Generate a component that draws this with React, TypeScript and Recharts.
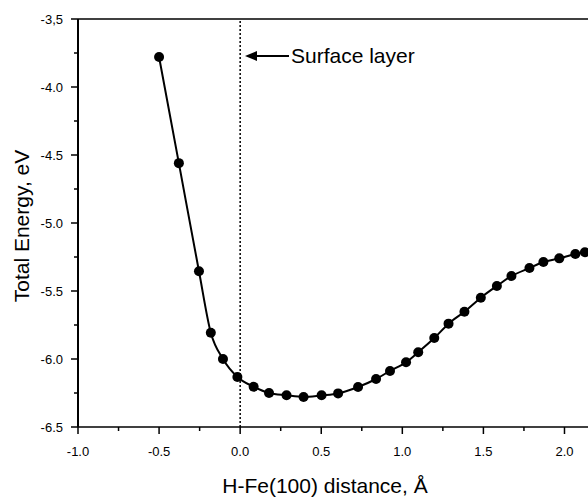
import React from 'react';
import { LineChart, Line, XAxis, YAxis, ReferenceLine } from 'recharts';

// H position relative to the Fe(100) surface, Å
const distance = [
    -0.5, -0.378, -0.254, -0.181, -0.106, -0.017, 0.083, 0.178, 0.286, 0.391,
    0.502, 0.604, 0.727, 0.838, 0.924, 1.023, 1.098, 1.197, 1.285, 1.383,
    1.484, 1.583, 1.673, 1.784, 1.87, 1.968, 2.067, 2.126
];
// total energy, eV
const energy = [
    -3.78, -4.56, -5.355, -5.807, -6.0, -6.132, -6.204, -6.25, -6.267, -6.279,
    -6.267, -6.253, -6.206, -6.147, -6.088, -6.024, -5.95, -5.846, -5.74, -5.652,
    -5.549, -5.463, -5.39, -5.331, -5.287, -5.26, -5.228, -5.215
];

const xTicks = [-1, -0.75, -0.5, -0.25, 0, 0.25, 0.5, 0.75, 1, 1.25, 1.5, 1.75, 2];
const xTickLabels = ['-1.0', '', '-0.5', '', '0.0', '', '0.5', '', '1.0', '', '1.5', '', '2.0'];
const yTicks = [-6.5, -6.25, -6, -5.75, -5.5, -5.25, -5, -4.75, -4.5, -4.25, -4, -3.75, -3.5];
const yTickLabels = ['-6.5', '', '-6.0', '', '-5.5', '', '-5.0', '', '-4.5', '', '-4.0', '', '-3,5'];

const xDomain = [-1, 2.145];
const yDomain = [-6.5, -3.5];

const FONT = '"Liberation Sans", Arial, Helvetica, sans-serif';

const data = distance.map((d, i) => ({ d, e: energy[i] }));

const BottomTick = (props: any) => {
    const { x, y, index } = props;
    const label = xTickLabels[index];
    const len = label ? 7 : 4;
    return (
        <g>
            <line x1={x} y1={y} x2={x} y2={y + len} stroke="#000" strokeWidth={1.5} />
            {label && <text x={x} y={y + 29} textAnchor="middle" fontSize={13} fontFamily={FONT} fill="#000">{label}</text>}
        </g>
    );
};

const TopTick = (props: any) => {
    const { x, y, index } = props;
    const len = xTickLabels[index] ? 7 : 4;
    return <line x1={x} y1={y} x2={x} y2={y + len} stroke="#000" strokeWidth={1.5} />;
};

const LeftTick = (props: any) => {
    const { x, y, index } = props;
    const label = yTickLabels[index];
    const len = label ? 7 : 4;
    return (
        <g>
            <line x1={x - len} y1={y} x2={x} y2={y} stroke="#000" strokeWidth={1.5} />
            {label && <text x={x - 15} y={y} dy={4.5} textAnchor="end" fontSize={13} fontFamily={FONT} fill="#000">{label}</text>}
        </g>
    );
};

export default function App() {
    return (
        <div style={{ position: 'absolute', left: 0, top: 0, width: 588, height: 499, overflow: 'hidden', background: '#fff' }}>
            <LineChart width={588} height={499} data={data} margin={{ top: 19, right: 0, bottom: 0, left: 0 }}>
                <XAxis
                    xAxisId="bottom"
                    dataKey="d"
                    type="number"
                    domain={xDomain}
                    ticks={xTicks}
                    interval={0}
                    height={72}
                    tickSize={0}
                    tickMargin={0}
                    tickLine={false}
                    axisLine={false}
                    tick={BottomTick}
                />
                <XAxis
                    xAxisId="top"
                    orientation="top"
                    dataKey="d"
                    type="number"
                    domain={xDomain}
                    ticks={xTicks}
                    interval={0}
                    height={0}
                    tickSize={0}
                    tickMargin={0}
                    tickLine={false}
                    axisLine={false}
                    tick={TopTick}
                />
                <YAxis
                    dataKey="e"
                    type="number"
                    domain={yDomain}
                    ticks={yTicks}
                    interval={0}
                    width={78}
                    tickSize={0}
                    tickMargin={0}
                    tickLine={false}
                    axisLine={{ stroke: '#000', strokeWidth: 2 }}
                    tick={LeftTick}
                />
                <ReferenceLine xAxisId="bottom" y={yDomain[0]} stroke="#000" strokeWidth={1.5} />
                <ReferenceLine xAxisId="bottom" y={yDomain[1]} stroke="#000" strokeWidth={1.5} ifOverflow="visible" />
                <ReferenceLine xAxisId="bottom" x={0} stroke="#000" strokeWidth={1.5} strokeDasharray="2 2" />
                <Line
                    xAxisId="bottom"
                    dataKey="e"
                    type="monotone"
                    stroke="#000"
                    strokeWidth={2}
                    dot={{ r: 5, fill: '#000', stroke: '#000', strokeWidth: 0 }}
                    isAnimationActive={false}
                />
            </LineChart>
            {/* titles and the surface-layer note */}
            <svg width={588} height={499} style={{ position: 'absolute', left: 0, top: 0, pointerEvents: 'none' }}>
                <text x={325} y={493} textAnchor="middle" fontSize={21} fontFamily={FONT} fill="#000">
                    H-Fe(100) distance, Å
                </text>
                <text x={0} y={0} transform="translate(29, 226) rotate(-90)" textAnchor="middle" fontSize={21} fontFamily={FONT} fill="#000">
                    Total Energy, eV
                </text>
                <line x1={254} y1={56} x2={289} y2={56} stroke="#000" strokeWidth={2} />
                <polygon points="245,56 257,51 257,61" fill="#000" />
                <text x={291} y={63} fontSize={21} fontFamily={FONT} fill="#000">
                    Surface layer
                </text>
            </svg>
        </div>
    );
}
